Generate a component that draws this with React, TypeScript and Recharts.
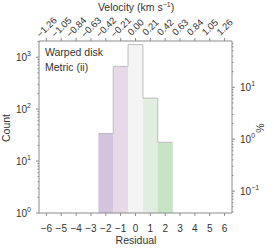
import { Bar, Cell, ComposedChart, Line, XAxis, YAxis } from "recharts"

// histogram of residuals (count per bin, bin width 1)
const residuals = [-2, -1, 0, 1, 2]
const counts = [34, 665, 1750, 163, 23]
const binColors = ["#d3c3dc", "#e8d9e8", "#f4f4f4", "#e1ede1", "#c7e4c4"]

const residualTicks = [-6, -5, -4, -3, -2, -1, 0, 1, 2, 3, 4, 5, 6]
const velocityPerResidual = 0.21
const countMajor = [1, 10, 100, 1000]
const percentMajor = [0.1, 1, 10]

const axisGrey = "#8a8a8a"
const textColor = "#333"
const font = "'Liberation Sans', Arial, sans-serif"

const total = counts.reduce((a, b) => a + b, 0)
const countDomain = [1, 2050]
const percentDomain = [(countDomain[0] / total) * 100, (countDomain[1] / total) * 100]
const resDomain = [-6.5, 6.5]
const velDomain = resDomain.map((v) => v * velocityPerResidual)

const data = residuals.map((r, i) => ({ r, count: counts[i] }))

// upper envelope of the histogram: step line through the bin edges (on the velocity axis)
const outline = [
  ...residuals.map((r, i) => ({ edge: (r - 0.5) * velocityPerResidual, count: counts[i] })),
  {
    edge: (residuals[residuals.length - 1] + 0.5) * velocityPerResidual,
    count: counts[counts.length - 1],
  },
]

const velocityTicks = residualTicks.map((t) => t * velocityPerResidual)

const logMinors = (lo: number, hi: number) => {
  const out: number[] = []
  for (let d = Math.floor(Math.log10(lo)); d <= Math.ceil(Math.log10(hi)); d++) {
    for (let m = 1; m < 10; m++) {
      const v = m * Math.pow(10, d)
      if (v >= lo && v <= hi) out.push(v)
    }
  }
  return out
}

const fmtMinus = (s: string) => s.replace("-", "\u2212")

const isMajor = (v: number, majors: number[]) => majors.some((m) => Math.abs(v - m) < m * 1e-6)

const PowerLabel = ({ x, y, v, anchor }: { x: number; y: number; v: number; anchor: "start" | "end" }) => {
  const exp = Math.round(Math.log10(v))
  return (
    <text x={x} y={y} dy={4} textAnchor={anchor} fontSize={10} fill={textColor} fontFamily={font}>
      10
      <tspan dy={-5} fontSize={7}>
        {fmtMinus(String(exp))}
      </tspan>
    </text>
  )
}

const LeftTick = (props: any) => {
  const { x, y, payload } = props
  const major = isMajor(payload.value, countMajor)
  return (
    <g>
      <line x1={x} x2={x - (major ? 3 : 1.5)} y1={y} y2={y} stroke={axisGrey} />
      {major && <PowerLabel x={x - 8} y={y} v={payload.value} anchor="end" />}
    </g>
  )
}

const RightTick = (props: any) => {
  const { x, y, payload } = props
  const major = isMajor(payload.value, percentMajor)
  return (
    <g>
      <line x1={x} x2={x + (major ? 3 : 1.5)} y1={y} y2={y} stroke={axisGrey} />
      {major && <PowerLabel x={x + 8} y={y} v={payload.value} anchor="start" />}
    </g>
  )
}

const BottomTick = (props: any) => {
  const { x, y, payload } = props
  return (
    <g>
      <line x1={x} x2={x} y1={y} y2={y + 3} stroke={axisGrey} />
      <text x={x} y={y + 19} textAnchor="middle" fontSize={10} fill={textColor} fontFamily={font}>
        {fmtMinus(String(payload.value))}
      </text>
    </g>
  )
}

const TopTick = (props: any) => {
  const { x, y, payload } = props
  const cy = y - 14
  return (
    <g>
      <line x1={x} x2={x} y1={y} y2={y - 3} stroke={axisGrey} />
      <text
        x={x}
        y={cy}
        dy={3.5}
        textAnchor="middle"
        fontSize={9.5}
        fill={textColor}
        fontFamily={font}
        transform={`rotate(-45 ${x} ${cy})`}
      >
        {fmtMinus(payload.value.toFixed(2))}
      </text>
    </g>
  )
}

export default function App() {
  return (
    <div style={{ position: "fixed", left: 0, top: 0, width: 274, height: 249, background: "#fff" }}>
      <ComposedChart
        width={274}
        height={249}
        data={data}
        margin={{ top: 40, right: 41, bottom: 35, left: 38 }}
        barCategoryGap={0}
        barGap={0}
      >
        <XAxis
          xAxisId="res"
          dataKey="r"
          type="number"
          domain={resDomain}
          ticks={residualTicks}
          interval={0}
          height={1}
          tickSize={0}
          tickMargin={0}
          tickLine={false}
          tick={<BottomTick />}
          axisLine={{ stroke: axisGrey }}
          allowDataOverflow
        />
        <XAxis
          xAxisId="vel"
          dataKey="edge"
          orientation="top"
          type="number"
          domain={velDomain}
          ticks={velocityTicks}
          interval={0}
          height={1}
          tickSize={0}
          tickMargin={0}
          tickLine={false}
          tick={<TopTick />}
          axisLine={{ stroke: axisGrey }}
          allowDataOverflow
        />
        <YAxis
          yAxisId="count"
          scale="log"
          domain={countDomain}
          ticks={logMinors(countDomain[0], countDomain[1])}
          interval={0}
          width={1}
          tickSize={0}
          tickMargin={0}
          tickLine={false}
          tick={<LeftTick />}
          axisLine={{ stroke: axisGrey }}
          allowDataOverflow
        />
        <YAxis
          yAxisId="pct"
          orientation="right"
          scale="log"
          domain={percentDomain}
          ticks={logMinors(percentDomain[0], percentDomain[1])}
          interval={0}
          width={1}
          tickSize={0}
          tickMargin={0}
          tickLine={false}
          tick={<RightTick />}
          axisLine={{ stroke: axisGrey }}
          allowDataOverflow
        />
        <Bar xAxisId="res" yAxisId="count" dataKey="count" isAnimationActive={false}>
          {data.map((d, i) => (
            <Cell key={d.r} fill={binColors[i]} />
          ))}
        </Bar>
        <Line
          xAxisId="vel"
          yAxisId="count"
          data={outline}
          dataKey="count"
          type="stepAfter"
          stroke="#bdbdbd"
          strokeWidth={1}
          dot={false}
          activeDot={false}
          isAnimationActive={false}
        />
        <text x={45} y={56} fontSize={10.5} fill={textColor} fontFamily={font}>
          Warped disk
        </text>
        <text x={45} y={71} fontSize={10.5} fill={textColor} fontFamily={font}>
          Metric (ii)
        </text>
        <text x={136} y={11} textAnchor="middle" fontSize={10.5} fill={textColor} fontFamily={font}>
          Velocity (km s
          <tspan dy={-4} fontSize={7}>
            {"\u22121"}
          </tspan>
          <tspan dy={4}>)</tspan>
        </text>
        <text x={136} y={244} textAnchor="middle" fontSize={10.5} fill={textColor} fontFamily={font}>
          Residual
        </text>
        <text
          x={10}
          y={128}
          textAnchor="middle"
          fontSize={10.5}
          fill={textColor}
          fontFamily={font}
          transform="rotate(-90, 10, 128)"
        >
          Count
        </text>
        <text
          x={264}
          y={128}
          textAnchor="middle"
          fontSize={10.5}
          fill={textColor}
          fontFamily={font}
          transform="rotate(-90, 264, 128)"
        >
          %
        </text>
      </ComposedChart>
    </div>
  )
}
